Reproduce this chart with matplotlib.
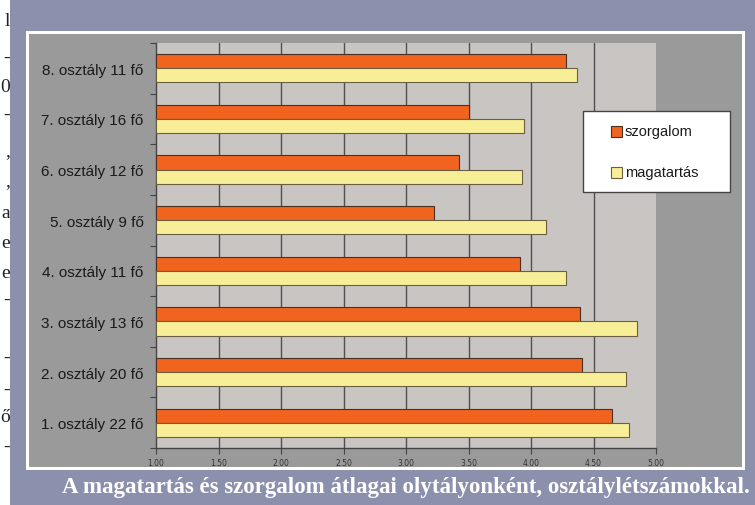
import numpy as np
import matplotlib
matplotlib.use('Agg')
import matplotlib.pyplot as plt
from matplotlib.patches import Rectangle

# data
classes = ['1. osztály 22 fő', '2. osztály 20 fő', '3. osztály 13 fő', '4. osztály 11 fő',
           '5. osztály 9 fő', '6. osztály 12 fő', '7. osztály 16 fő', '8. osztály 11 fő']
szorgalom = [4.65, 4.41, 4.39, 3.91, 3.22, 3.42, 3.50, 4.28]
magatartas = [4.78, 4.76, 4.85, 4.28, 4.12, 3.93, 3.94, 4.37]
xticks = [1.0, 1.5, 2.0, 2.5, 3.0, 3.5, 4.0, 4.5, 5.0]
caption = 'A magatartás és szorgalom átlagai olytályonként, osztálylétszámokkal.'
# cut-off page text on the left edge
margin_chars = ['l', '-', '0', '-', ',', ',', 'a', 'e', 'e', '-', '-', '-', 'ő', '-']
margin_y = [22, 58, 87, 115, 152, 182, 213, 243, 273, 300, 358, 390, 418, 447]

W, H = 755, 506
fig = plt.figure(figsize=(W / 100, H / 100), dpi=100, facecolor='white')

def px(x0, y0, x1, y1):
    # pixel box (top-left origin) -> figure fraction rect
    return (x0 / W, 1 - y1 / H), (x1 - x0) / W, (y1 - y0) / H

def box(x0, y0, x1, y1, zorder=1, **kw):
    xy, w, h = px(x0, y0, x1, y1)
    r = Rectangle(xy, w, h, transform=fig.transFigure, zorder=zorder, **kw)
    fig.patches.append(r)
    return r

for ch, y in zip(margin_chars, margin_y):
    fig.text(10 / W, 1 - y / H, ch, ha='right', va='center', fontsize=14,
             family='Liberation Serif', color='#222222', zorder=0)

box(10, 0, W, H, facecolor='#8b91ad', edgecolor='none')
box(26, 32, 745, 471, facecolor='white', edgecolor='none')
box(29, 35, 742, 468, facecolor='#9a9a9a', edgecolor='none')

ax = fig.add_axes([156 / W, 1 - 449 / H, 500 / W, 405 / H])
ax.set_facecolor('#c8c5c3')
ax.set_zorder(2)

y = np.arange(len(classes))
bh = 0.28
vals1 = np.array(szorgalom)
vals2 = np.array(magatartas)
b1 = ax.barh(y + bh / 2, vals1 - 1, left=1, height=bh, color='#f06420',
             edgecolor='#4a3020', linewidth=0.8, label='szorgalom', zorder=3)
b2 = ax.barh(y - bh / 2, vals2 - 1, left=1, height=bh, color='#f8ee98',
             edgecolor='#6a6040', linewidth=0.8, label='magatartás', zorder=3)

ax.set_xlim(1, 5)
ax.set_ylim(-0.5, len(classes) - 0.5)
ax.set_xticks(xticks)
ax.set_xticklabels(['%.2f' % t for t in xticks], fontsize=5.5, color='#333333')
ax.set_yticks(y)
ax.set_yticklabels(classes, fontsize=11, color='#1a1a1a', family='Liberation Sans')
ax.set_yticks(np.arange(len(classes) + 1) - 0.5, minor=True)
ax.tick_params(axis='y', which='major', length=0, pad=9)
ax.tick_params(axis='y', which='minor', length=4, color='#444444', width=0.8)
ax.tick_params(axis='x', length=4, color='#444444', width=0.8, pad=3)

ax.xaxis.grid(True, color='#505050', linewidth=1)
ax.set_axisbelow(True)
ax.get_xgridlines()[-1].set_visible(False)
ax.get_xgridlines()[0].set_visible(False)

for s in ['top', 'right']:
    ax.spines[s].set_visible(False)
for s in ['left', 'bottom']:
    ax.spines[s].set_color('#444444')
    ax.spines[s].set_linewidth(1)

# legend box drawn by hand (wide left margin like the original)
box(583, 112, 730, 193, zorder=5, facecolor='white', edgecolor='#444444', linewidth=1)
for bars, ly in [(b1, 132), (b2, 173)]:
    p = bars.patches[0]
    box(611, ly - 5.5, 622, ly + 5.5, zorder=6, facecolor=p.get_facecolor(),
        edgecolor=p.get_edgecolor(), linewidth=0.8)
    fig.text(625 / W, 1 - ly / H, bars.get_label(), ha='left', va='center',
             fontsize=10.5, family='Liberation Sans', color='#1a1a1a', zorder=6)

fig.text(406 / W, 1 - 488 / H, caption, ha='center', va='center', fontsize=16.5,
         fontweight='bold', family='Liberation Serif', color='white', zorder=3)

fig.savefig('out.png', dpi=100, facecolor=fig.get_facecolor())
